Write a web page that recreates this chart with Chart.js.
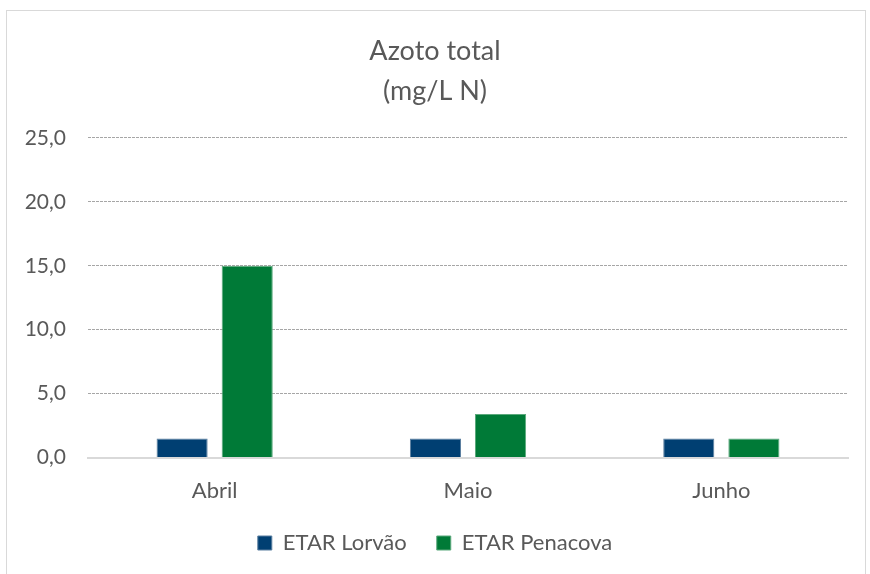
<!DOCTYPE html>
<html>
<head>
<meta charset="utf-8">
<script src="https://cdn.jsdelivr.net/npm/chart.js@4"></script>
<style>
    html, body { margin: 0; padding: 0; background: #fff; }
    #wrap { position: relative; width: 870px; height: 574px; }
    #frame { position: absolute; left: 6px; top: 10px; width: 858px; height: 580px; border: 1px solid #d9d9d9; }
    #chart { position: absolute; left: 0; top: 0; }
</style>
</head>
<body>
<div id="wrap">
    <div id="frame"></div>
    <canvas id="chart" width="870" height="574"></canvas>
</div>
<script>
// Azoto total (mg/L N) - monthly values per ETAR

const months = ['Abril', 'Maio', 'Junho'];
const lorvao = [1.5, 1.5, 1.5];
const penacova = [15.0, 3.4, 1.5];
const seriesNames = ['ETAR Lorvão', 'ETAR Penacova'];
const titleLines = ['Azoto total', '(mg/L N)'];

const FONT = "'Lato', 'Open Sans', sans-serif";
const TEXT = '#595959';

const ctx = document.getElementById('chart');

new Chart(ctx, {
    type: 'bar',
    data: {
        labels: months,
        datasets: [{
            label: seriesNames[0],
            data: lorvao,
            backgroundColor: '#003f72',
            borderColor: '#5b7fa0',
            borderWidth: 1,
            categoryPercentage: 0.514,
            barPercentage: 0.785
        }, {
            label: seriesNames[1],
            data: penacova,
            backgroundColor: '#007a37',
            borderColor: '#5ba97c',
            borderWidth: 1,
            categoryPercentage: 0.514,
            barPercentage: 0.785
        }]
    },
    options: {
        responsive: false,
        animation: false,
        layout: {
            padding: { left: 22, right: 22, top: 31, bottom: 10 }
        },
        plugins: {
            title: {
                display: true,
                text: titleLines,
                color: TEXT,
                font: { family: FONT, size: 27, weight: 'normal', lineHeight: 1.48 },
                padding: { top: 0, bottom: 27 }
            },
            legend: {
                position: 'bottom',
                labels: {
                    color: TEXT,
                    font: { family: FONT, size: 22 },
                    boxWidth: 14,
                    boxHeight: 14,
                    padding: 30,
                    useBorderRadius: false
                }
            },
            tooltip: { enabled: false }
        },
        scales: {
            x: {
                afterFit: function(scale) {
                    scale.height -= 22;
                },
                grid: { display: false, drawTicks: false },
                border: { display: true, color: '#d9d9d9', width: 2 },
                ticks: {
                    color: TEXT,
                    font: { family: FONT, size: 22 },
                    padding: 20
                }
            },
            y: {
                min: 0,
                max: 25,
                afterFit: function(scale) {
                    scale.width = 66;
                },
                grid: {
                    color: '#a6a6a6',
                    drawTicks: false
                },
                border: { display: false, dash: [3, 1] },
                ticks: {
                    stepSize: 5,
                    color: TEXT,
                    font: { family: FONT, size: 21 },
                    padding: 22,
                    callback: function(value) {
                        return value.toFixed(1).replace('.', ',');
                    }
                }
            }
        }
    }
});
</script>
</body>
</html>
